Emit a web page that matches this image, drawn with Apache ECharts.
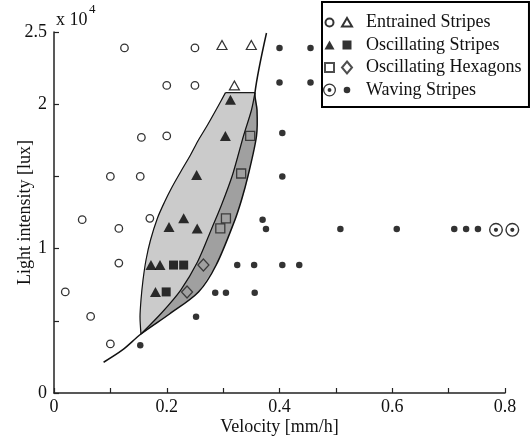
<!DOCTYPE html>
<html><head><meta charset="utf-8">
<script src="https://cdn.jsdelivr.net/npm/echarts@6/dist/echarts.min.js"></script>
<style>html,body{margin:0;padding:0;background:#fff}#c{width:531px;height:439px}</style>
</head><body><div id="c"></div>
<script>
// ---- data ----
const xLabelValues = [0, 0.2, 0.4, 0.6, 0.8];
const xLabelTexts = ['0', '0.2', '0.4', '0.6', '0.8'];
const yLabelValues = [0, 10000, 20000, 25000];
const yLabelTexts = ['0', '1', '2', '2.5'];

const entrainedCircles = [[0.125,23900],[0.25,23900],[0.2,21300],[0.25,21300],[0.155,17700],[0.2,17800],
  [0.1,15000],[0.153,15000],[0.05,12000],[0.115,11400],[0.17,12100],[0.115,9000],[0.02,7000],[0.065,5300],[0.1,3400]];
const entrainedTriangles = [[0.298,24100],[0.35,24100],[0.32,21300]];
const oscStripesTriangles = [[0.313,20300],[0.304,17800],[0.253,15100],[0.204,11500],[0.23,12100],[0.254,11400],
  [0.172,8860],[0.188,8860],[0.18,7000]];
const oscStripesSquares = [[0.212,8860],[0.23,8860],[0.199,7000]];
const oscHexSquares = [[0.348,17800],[0.332,15200],[0.305,12100],[0.295,11400]];
const oscHexDiamonds = [[0.265,8860],[0.236,7000]];
const wavingCircled = [[0.784,11300],[0.813,11300]];
const wavingDots = [[0.4,23900],[0.455,23900],[0.4,21500],[0.455,21500],[0.405,18000],[0.405,15000],[0.37,12000],
  [0.376,11350],[0.508,11350],[0.608,11350],[0.71,11350],[0.731,11350],[0.752,11350],
  [0.325,8860],[0.355,8860],[0.405,8860],[0.435,8860],[0.286,6950],[0.305,6950],[0.356,6950],[0.252,5280],[0.153,3300]];

// region boundaries (velocity, lux)
const leftEdge = [[0.1543,4086],[0.1526,5263],[0.1543,6440],[0.1579,7825],[0.1632,9211],[0.1712,10596],[0.1836,12119],
  [0.1961,13227],[0.2085,14197],[0.2245,15305],[0.2421,16482],[0.2563,17521],[0.2723,18560],[0.2883,19668],[0.3042,20800]];
const middleEdge = [[0.3565,20800],[0.3503,19600],[0.3361,17800],[0.3166,15100],[0.2971,13020],[0.2794,11360],
  [0.2545,9070],[0.2248,7130],[0.1907,5540],[0.1543,4086]];
const rightEdge = [[0.1543,4086],[0.2049,5471],[0.2563,6994],[0.2877,8864],[0.3202,11911],[0.3326,13366],
  [0.3438,14979],[0.3592,17798],[0.3601,19598],[0.3565,20800]];
const curveLower = [[0.088,2130],[0.1215,2980]];
const curveUpper = [[0.3769,24930]];

// ---- chart ----
const FONT = 'Liberation Serif';
const TXT = '#111';
const circledDot = 'path://M0,-10A10,10 0 1 1 0,10A10,10 0 1 1 0,-10Z M0,-8A8,8 0 1 0 0,8A8,8 0 1 0 0,-8Z M0,-3A3,3 0 1 1 0,3A3,3 0 1 1 0,-3Z';

function pick(vals, texts) {
  return function (v) {
    for (let i = 0; i < vals.length; i++) if (Math.abs(v - vals[i]) < 1e-6) return texts[i];
    return '';
  };
}

const chart = echarts.init(document.getElementById('c'), null, {renderer: 'canvas'});
const sc = (name, data, symbol, size, itemStyle) => ({
  type: 'scatter', name, data, symbol, symbolSize: size, itemStyle, clip: false, z: 3,
  emphasis: {disabled: true}, silent: true
});

const option = {
  animation: false,
  backgroundColor: '#fff',
  grid: {left: 54, right: 26, top: 32, bottom: 46, containLabel: false, outerBoundsMode: 'none'},
  xAxis: {
    type: 'value', min: 0, max: 0.8, interval: 0.1,
    name: 'Velocity [mm/h]', nameLocation: 'middle', nameGap: 25, nameMoveOverlap: false,
    nameTextStyle: {fontFamily: FONT, fontSize: 18, color: TXT},
    axisLine: {show: true, lineStyle: {color: '#222', width: 1.5}},
    axisTick: {show: true, inside: true, length: 5, lineStyle: {color: '#222', width: 1.2}},
    axisLabel: {fontFamily: FONT, fontSize: 18, color: TXT, margin: 5, formatter: pick(xLabelValues, xLabelTexts), showMaxLabel: true, showMinLabel: true},
    splitLine: {show: false}
  },
  yAxis: {
    type: 'value', min: 0, max: 25000, interval: 5000,
    name: 'Light intensity [lux]', nameLocation: 'middle', nameGap: 20, nameMoveOverlap: false,
    nameTextStyle: {fontFamily: FONT, fontSize: 18, color: TXT},
    axisLine: {show: true, lineStyle: {color: '#222', width: 1.5}},
    axisTick: {show: true, inside: true, length: 5, lineStyle: {color: '#222', width: 1.2}},
    axisLabel: {fontFamily: FONT, fontSize: 18, color: TXT, margin: 7, formatter: pick(yLabelValues, yLabelTexts), showMaxLabel: true, showMinLabel: true},
    splitLine: {show: false}
  },
  legend: [
    {
      id: 'l1', data: [
        {name: 'esC', icon: 'path://M-6.5,-6.5M6.5,6.5M0,-4A4,4 0 1 1 0,4A4,4 0 1 1 0,-4Z'},
        {name: 'osT', icon: 'path://M-6.5,-6.5M6.5,6.5M0,-4.5L5,4.5L-5,4.5Z'},
        {name: 'ohS', icon: 'path://M-6.5,-6.5M6.5,6.5M-4.5,-4.5L4.5,-4.5L4.5,4.5L-4.5,4.5Z'},
        {name: 'wsC', icon: circledDot}
      ],
      orient: 'vertical', left: 322, top: 12.5, padding: 0, itemWidth: 13, itemHeight: 13, itemGap: 2.5,
      formatter: () => ' ', textStyle: {fontFamily: FONT, fontSize: 18, lineHeight: 20},
      selectedMode: false, z: 6
    },
    {
      id: 'l2', data: [
        {name: 'Entrained Stripes', icon: 'path://M-6,-6M6,6M0,-4.5L5,4L-5,4Z'},
        {name: 'Oscillating Stripes', icon: 'path://M-6,-6M6,6M-4.5,-4.5L4.5,-4.5L4.5,4.5L-4.5,4.5Z'},
        {name: 'Oscillating Hexagons', icon: 'path://M0,-6L5,0L0,6L-5,0Z'},
        {name: 'Waving Stripes', icon: 'path://M-6,-6M6,6M0,-3.3A3.3,3.3 0 1 1 0,3.3A3.3,3.3 0 1 1 0,-3.3Z'}
      ],
      orient: 'vertical', left: 322, top: 2, padding: [10.5, 7.5, 7, 18], itemWidth: 12, itemHeight: 12, itemGap: 2.5,
      textStyle: {fontFamily: FONT, fontSize: 18, lineHeight: 20, color: TXT, padding: [0, 0, 0, 8]},
      borderColor: '#000', borderWidth: 2, backgroundColor: '#fff',
      selectedMode: false, z: 5
    }
  ],
  graphic: [
    {type: 'text', left: 56, top: 11, z: 10, style: {text: 'x 10', font: '18px "Liberation Serif"', fill: TXT}},
    {type: 'text', left: 89, top: 3, z: 10, style: {text: '4', font: '13px "Liberation Serif"', fill: TXT}}
  ],
  series: [
    {
      type: 'custom', name: 'regions', coordinateSystem: 'cartesian2d', z: 1, silent: true, clip: false,
      data: [[0.2, 10000]],
      renderItem: function (params, api) {
        const c = p => api.coord(p);
        const light = leftEdge.concat(middleEdge).map(c);
        const dark = middleEdge.concat(rightEdge).map(c);
        const black = curveLower.concat(rightEdge, curveUpper).map(c);
        return {
          type: 'group', children: [
            {type: 'polygon', shape: {points: light}, style: {fill: '#cbcbcb', stroke: '#cbcbcb', lineWidth: 0.5}},
            {type: 'polygon', shape: {points: dark}, style: {fill: '#a0a0a0', stroke: '#a0a0a0', lineWidth: 0.5}},
            {type: 'polyline', shape: {points: leftEdge.map(c), smooth: 0.3}, style: {fill: null, stroke: '#111', lineWidth: 1.2}},
            {type: 'polyline', shape: {points: [leftEdge[leftEdge.length - 1], middleEdge[0]].map(c)}, style: {fill: null, stroke: '#111', lineWidth: 1.2}},
            {type: 'polyline', shape: {points: middleEdge.map(c), smooth: 0.3}, style: {fill: null, stroke: '#111', lineWidth: 1.2}},
            {type: 'polyline', shape: {points: black, smooth: 0.3}, style: {fill: null, stroke: '#111', lineWidth: 1.5}}
          ]
        };
      }
    },
    sc('esC', entrainedCircles, 'circle', 7.5, {color: '#fff', borderColor: '#000', borderWidth: 1.3}),
    sc('Entrained Stripes', entrainedTriangles, 'triangle', [10, 9], {color: '#fff', borderColor: '#000', borderWidth: 1.2}),
    sc('osT', oscStripesTriangles, 'triangle', [11, 10], {color: '#000'}),
    sc('Oscillating Stripes', oscStripesSquares, 'rect', 9, {color: '#000'}),
    sc('ohS', oscHexSquares, 'rect', 9, {color: 'transparent', borderColor: '#222', borderWidth: 1.3}),
    sc('Oscillating Hexagons', oscHexDiamonds, 'diamond', [11, 12], {color: 'transparent', borderColor: '#222', borderWidth: 1.3}),
    sc('wsC', wavingCircled, circledDot, 14, {color: '#000'}),
    sc('Waving Stripes', wavingDots, 'circle', 6.5, {color: '#000'})
  ]
};
chart.setOption(option);
</script>
</body></html>
